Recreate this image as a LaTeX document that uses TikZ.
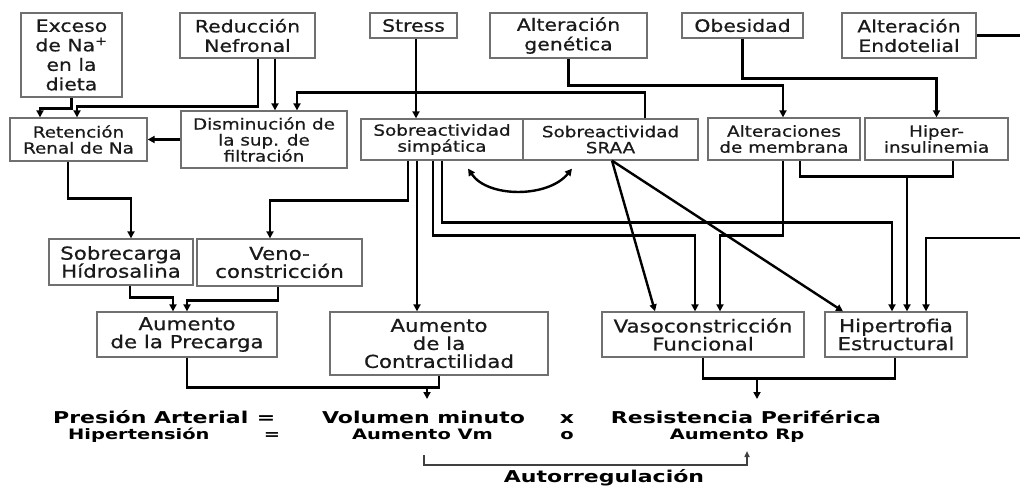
\documentclass[tikz,border=0pt]{standalone}
\usepackage{fontspec}
\setmainfont{DejaVu Sans}[FakeStretch=1.2, FakeBold=0.7]
\newfontfamily\eqfont{DejaVu Sans}[FakeStretch=1.35]
\usetikzlibrary{arrows.meta}
\definecolor{boxgray}{HTML}{707070}
\definecolor{txtgray}{HTML}{1A1A1A}
\tikzset{
  box/.style={draw=boxgray, line width=1.3pt, align=center, inner sep=0pt, fill=white, text=txtgray},
  rowa/.style={font=\fontsize{17}{19.5}\selectfont},
  rowb/.style={font=\fontsize{15.3}{16}\selectfont},
  rowc/.style={font=\fontsize{17.8}{18}\selectfont},
  conn/.style={line width=2.4pt, black},
  arr/.style={conn, -{Triangle[length=7pt,width=7pt]}},
  thinarr/.style={line width=1.6pt, black!75, -{Triangle[length=6pt,width=5pt]}},
  eqa/.style={font=\eqfont\bfseries\fontsize{16.3}{18}\selectfont, inner sep=0pt},
  eqb/.style={font=\eqfont\bfseries\fontsize{14.4}{16}\selectfont, inner sep=0pt},
}
\begin{document}
\begin{tikzpicture}[x=1pt,y=-1pt]
\fill[white] (0,0) rectangle (1020,485);
\useasboundingbox (0,0) rectangle (1020,485);
% top row
\node[box, rowa, minimum width=101pt, minimum height=84pt] (exc) at (71.5,55) {Exceso\\de Na\textsuperscript{+}\\en la\\dieta};
\node[box, rowa, minimum width=135pt, minimum height=45pt] (red) at (247.5,35.5) {Reducción\\Nefronal};
\node[box, rowa, minimum width=87pt, minimum height=25pt] (str) at (413.5,25.5) {Stress};
\node[box, rowa, minimum width=157pt, minimum height=45pt] (gen) at (568.5,35.5) {Alteración\\genética};
\node[box, rowa, minimum width=121pt, minimum height=25pt] (obe) at (742.5,25.5) {Obesidad};
\node[box, rowa, minimum width=134pt, minimum height=45pt] (endo) at (909,35.5) {Alteración\\Endotelial};
% second row
\node[box, rowb, minimum width=137pt, minimum height=43pt] (ret) at (78.5,139.5) {Retención\\Renal de Na};
\node[box, rowb, minimum width=166pt, minimum height=57pt] (dis) at (264,139.5) {Disminución de\\la sup. de\\filtración};
\node[box, rowb, minimum width=162pt, minimum height=41pt] (simp) at (442,139.5) {Sobreactividad\\simpática};
\node[box, rowb, minimum width=175pt, minimum height=41pt] (sraa) at (610.5,139.5) {Sobreactividad\\SRAA};
\node[box, rowb, minimum width=152pt, minimum height=42pt] (memb) at (784,139) {Alteraciones\\de membrana};
\node[box, rowb, minimum width=143pt, minimum height=42pt] (insu) at (936.5,139) {Hiper-\\insulinemia};
% third row
\node[box, rowc, minimum width=144pt, minimum height=46pt] (sobr) at (121,262) {Sobrecarga\\Hídrosalina};
\node[box, rowc, minimum width=165pt, minimum height=47pt] (veno) at (279.5,262.5) {Veno-\\constricción};
% fourth row
\node[box, rowc, minimum width=180pt, minimum height=45pt] (prec) at (187,334.5) {Aumento\\de la Precarga};
\node[box, rowc, minimum width=218pt, minimum height=63pt] (cont) at (439,343.5) {Aumento\\de la\\Contractilidad};
\node[box, rowc, minimum width=202pt, minimum height=45pt] (vaso) at (703,334.5) {Vasoconstricción\\Funcional};
\node[box, rowc, minimum width=142pt, minimum height=45pt] (hipe) at (896,334.5) {Hipertrofia\\Estructural};
% bottom equations (shared baselines)
\node[eqa, anchor=base west] (pa) at (53,423) {Presión Arterial};
\node[eqa, anchor=base] (eq1) at (266,423) {=};
\node[eqb, anchor=base west] (ht) at (68,439) {Hipertensión};
\node[eqb, anchor=base] (eq2) at (272,439) {=};
\node[eqa, anchor=base] (vm) at (423.5,423) {Volumen minuto};
\node[eqb, anchor=base] (avm) at (422.5,439) {Aumento Vm};
\node[eqa, anchor=base] (xx) at (567,423) {x};
\node[eqb, anchor=base] (oo) at (567,439) {o};
\node[eqa, anchor=base] (rp) at (746,423) {Resistencia Periférica};
\node[eqb, anchor=base] (arp) at (737,439) {Aumento Rp};
\node[eqa] (au) at (604,478) {Autorregulación};
% coordinates
\coordinate (redge) at (1020,0);
\coordinate (r2) at (1020,238);
\coordinate (j1) at (907,176);
\coordinate (m1) at (427,387);
\coordinate (m1e) at (427,399);
\coordinate (m2) at (757,378);
\coordinate (m2e) at (757,399);
\coordinate (a1) at (424,455);
\coordinate (a2) at (747,451);
% connectors
\draw[arr] (exc.south) -- ++(0,11) -| ([xshift=-38.5pt]ret.north);
\draw[arr] ([xshift=10.5pt]red.south) -- ++(0,48) -| ([xshift=-1.5pt]ret.north);
\draw[arr] ([xshift=27.5pt]red.south) -- ([xshift=27.5pt]red.south |- dis.north);
\draw[arr] ([xshift=34.5pt]sraa.north) -- ++(0,-26) -| ([xshift=33pt]dis.north);
\draw[arr] (dis.west) -- (ret.east);
\draw[arr] ([xshift=2.5pt]str.south) -- ([xshift=2.5pt]str.south |- simp.north);
\draw[arr] (gen.south) -- ++(0,27) -| ([xshift=-1pt]memb.north);
\draw[arr] (obe.south) -- ++(0,40) -| (insu.north);
\draw[conn] (endo.east) -- (endo.east -| redge);
\draw[arr] ([xshift=-10.5pt]ret.south) -- ++(0,37) -| ([xshift=10pt]sobr.north);
\draw[arr] ([xshift=-34pt]simp.south) -- ++(0,40) -| ([xshift=-9.5pt]veno.north);
\draw[arr] ([xshift=-25pt]simp.south) -- ([xshift=-25pt]simp.south |- cont.north);
\draw[arr] ([xshift=-9pt]simp.south) -- ++(0,75) -| ([xshift=-8pt]vaso.north);
\draw[arr] (simp.south) -- ++(0,62) -| ([xshift=-4pt]hipe.north);
\draw[arr] ([xshift=-1pt]memb.south) -- ++(0,75) -| ([xshift=17pt]vaso.north);
\draw[conn] ([xshift=16pt]memb.south) -- ++(0,16) -| ([xshift=16.5pt]insu.south);
\draw[arr] (j1) -- (j1 |- hipe.north);
\draw[arr] (r2) -| ([xshift=30pt]hipe.north);
\draw[arr] ([xshift=1.5pt]sraa.south) -- ([xshift=-48pt]vaso.north);
\draw[arr] ([xshift=1.5pt]sraa.south) -- ([xshift=-53pt]hipe.north);
\draw[conn, {Triangle[length=7pt,width=7pt]}-{Triangle[length=7pt,width=7pt]}]
  ([xshift=26pt,yshift=-8pt]simp.south) .. controls (488,198) and (548,198) .. ([xshift=-38.5pt,yshift=-8pt]sraa.south);
\draw[arr] ([xshift=9pt]sobr.south) -- ++(0,12) -| ([xshift=-14pt]prec.north);
\draw[arr] ([xshift=-1.5pt]veno.south) -- ++(0,14) -| (prec.north);
\draw[conn] (prec.south) -- ++(0,30) -| (cont.south);
\draw[arr] (m1) -- (m1e);
\draw[conn] (vaso.south) -- ++(0,21) -| ([xshift=-1pt]hipe.south);
\draw[arr] (m2) -- (m2e);
\draw[thinarr] (a1) -- ++(0,10) -| (a2);
\end{tikzpicture}
\end{document}
